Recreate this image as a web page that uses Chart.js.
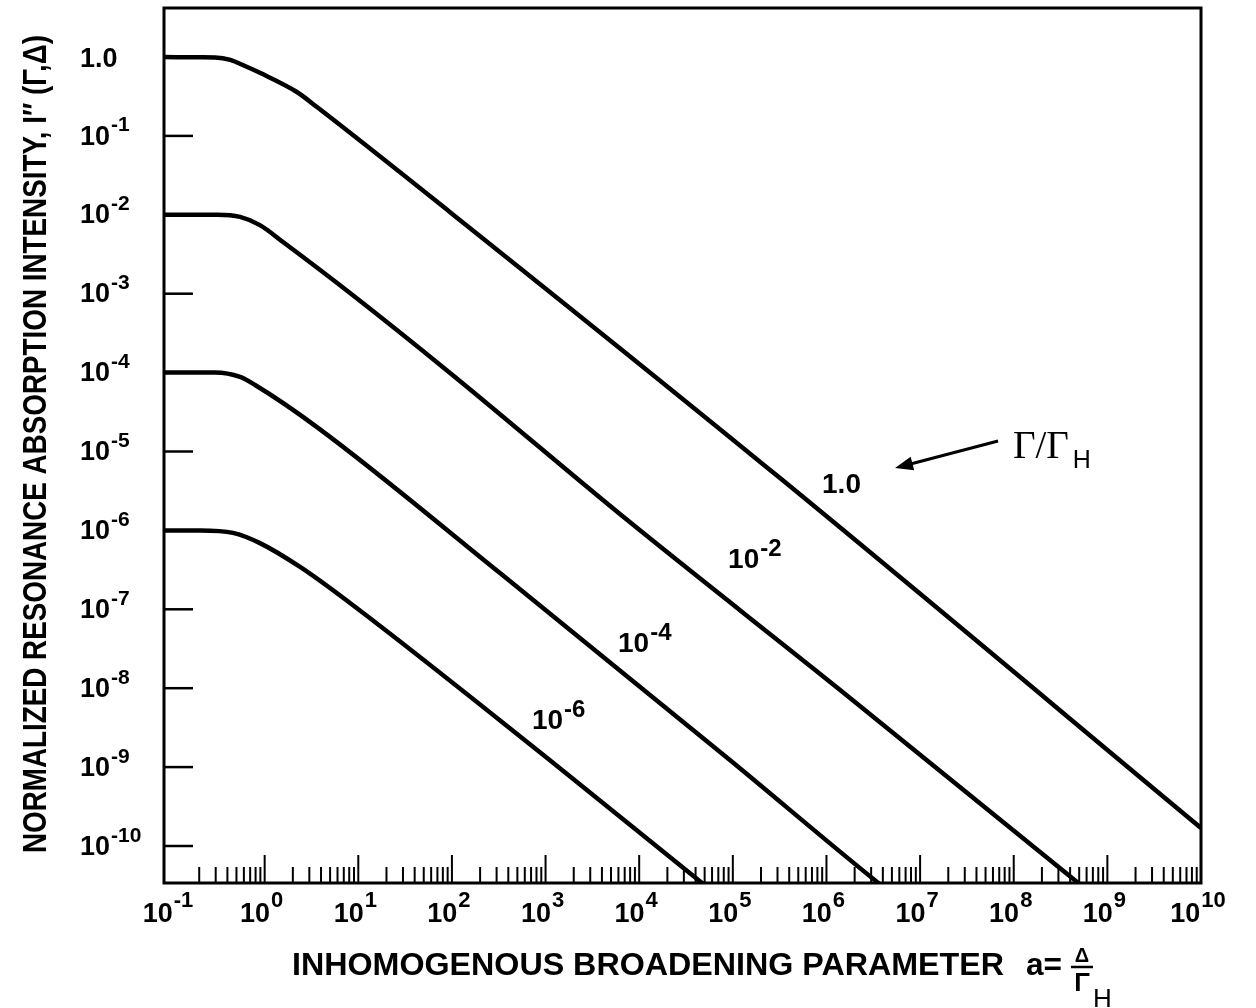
<!DOCTYPE html>
<html>
<head>
<meta charset="utf-8">
<script src="https://cdn.jsdelivr.net/npm/chart.js@4"></script>
<style>
  html, body { margin: 0; padding: 0; background: #fff; }
  #wrap { width: 1256px; height: 1008px; position: relative; }
</style>
</head>
<body>
<div id="wrap"><canvas id="chart"></canvas></div>
<script>
// Valores (a = Δ/Γ_H, intensidad normalizada)
const curveLabels = ['1.0', '-2', '-4', '-6'];

const aCurve0 = [0.0841, 0.204, 0.295, 0.43, 0.617, 0.89, 2.21, 3.62, 95.5, 3.19e5, 1e10];
const iCurve0 = [1.0, 0.99, 0.986, 0.92, 0.769, 0.63, 0.36, 0.232, 0.0108, 4.6e-6, 1.69e-10];

const aCurve2 = [0.0841, 0.31, 0.546, 0.89, 1.57, 8.16, 95.5, 7.41e3, 1.40e6, 4.2e8, 5.96e8];
const iCurve2 = [1e-2, 1e-2, 9.4e-3, 7.4e-3, 4.52e-3, 1.02e-3, 9.9e-5, 1.36e-6, 9.5e-9, 3.93e-11, 2.8e-11];

const aCurve4 = [0.0841, 0.295, 0.546, 0.79, 3.62, 326, 9.3e4, 3.47e6, 5.0e6];
const iCurve4 = [1e-4, 1e-4, 8.8e-5, 6.97e-5, 2.04e-5, 2.88e-7, 1.23e-9, 3.5e-11, 2.5e-11];

const aCurve6 = [0.0841, 0.204, 0.459, 0.89, 2.39, 8.16, 1.04e3, 4.69e4, 6.8e4];
const iCurve6 = [1e-6, 1e-6, 9.3e-7, 6.9e-7, 3.44e-7, 1.20e-7, 1.30e-9, 3.4e-11, 2.4e-11];

// Posiciones de las etiquetas de cada curva (coordenadas de datos)
const labelA = [8.97e5, 8.9e4, 5.94e3, 716];
const labelI = [4.0e-6, 4.47e-7, 3.85e-8, 4.07e-9];

// Marcas de los ejes (exponentes de 10)
const xDecades = [-1, 0, 1, 2, 3, 4, 5, 6, 7, 8, 9, 10];
const yDecades = [0, -1, -2, -3, -4, -5, -6, -7, -8, -9, -10];

const SANS = '"Liberation Sans", Arial, Helvetica, sans-serif';
const SERIF = '"Liberation Serif", "Times New Roman", serif';

function toPoints(xs, ys) {
    return xs.map((v, i) => ({ x: v, y: ys[i] }));
}

// Dibuja "10" con exponente; (x, y) = borde izquierdo y centro vertical de la base
function drawPower(ctx, x, y, exp, baseSize, supSize, rise, align) {
    ctx.font = 'bold ' + baseSize + 'px ' + SANS;
    const wBase = ctx.measureText('10').width;
    ctx.font = 'bold ' + supSize + 'px ' + SANS;
    const wSup = ctx.measureText(exp).width;
    let left = x;
    if (align === 'center') left = x - (wBase + wSup + 1) / 2;
    ctx.textAlign = 'left';
    ctx.textBaseline = 'alphabetic';
    ctx.font = 'bold ' + baseSize + 'px ' + SANS;
    ctx.fillText('10', left, y + baseSize * 0.358);
    ctx.font = 'bold ' + supSize + 'px ' + SANS;
    ctx.fillText(exp, left + wBase + 1, y - rise + supSize * 0.358);
}

function squeezeText(ctx, text, x, y, width, font, angle) {
    ctx.save();
    ctx.font = font;
    const w = ctx.measureText(text).width;
    ctx.translate(x, y);
    if (angle) ctx.rotate(angle);
    ctx.scale(width / w, 1);
    ctx.textAlign = 'left';
    ctx.textBaseline = 'alphabetic';
    ctx.fillText(text, 0, 0);
    ctx.restore();
}

const axesPlugin = {
    id: 'axesPlugin',
    afterDraw(chart) {
        const ctx = chart.ctx;
        const xs = chart.scales.x;
        const ys = chart.scales.y;
        const area = chart.chartArea;
        ctx.save();
        ctx.strokeStyle = '#000';
        ctx.fillStyle = '#000';

        // marco
        ctx.lineWidth = 3;
        ctx.strokeRect(area.left, area.top, area.right - area.left, area.bottom - area.top);

        // marcas del eje Y
        ctx.lineWidth = 2.5;
        yDecades.forEach(e => {
            const py = ys.getPixelForValue(Math.pow(10, e));
            ctx.beginPath();
            ctx.moveTo(area.left, py);
            ctx.lineTo(area.left + 29, py);
            ctx.stroke();
            if (e === 0) {
                ctx.font = 'bold 27px ' + SANS;
                ctx.textAlign = 'left';
                ctx.textBaseline = 'alphabetic';
                ctx.fillText('1.0', 80, py + 27 * 0.358);
            } else {
                drawPower(ctx, 80, py - 1, '-' + Math.abs(e), 27, 21, 11, 'left');
            }
        });

        // marcas del eje X
        ctx.lineWidth = 2;
        xDecades.forEach(e => {
            if (e < 10) {
                for (let m = 2; m <= 9; m++) {
                    const px = xs.getPixelForValue(m * Math.pow(10, e));
                    ctx.beginPath();
                    ctx.moveTo(px, area.bottom);
                    ctx.lineTo(px, area.bottom - 16);
                    ctx.stroke();
                }
            }
            const px = xs.getPixelForValue(Math.pow(10, e));
            if (e >= 0 && e < 10) {
                ctx.beginPath();
                ctx.moveTo(px, area.bottom);
                ctx.lineTo(px, area.bottom - 28);
                ctx.stroke();
            }
            drawPower(ctx, px - 3, area.bottom + 29, String(e), 27, 22, 13, 'center');
        });

        // títulos de ejes
        squeezeText(ctx, 'NORMALIZED RESONANCE ABSORPTION INTENSITY, I\u2033 (\u0393,\u0394)',
            46, 853, 818, 'bold 34px ' + SANS, -Math.PI / 2);
        squeezeText(ctx, 'INHOMOGENOUS BROADENING PARAMETER', 292, 975, 712, 'bold 31px ' + SANS);
        squeezeText(ctx, 'a=', 1026, 975, 36, 'bold 31px ' + SANS);
        ctx.textAlign = 'center';
        ctx.textBaseline = 'alphabetic';
        ctx.font = 'bold 20px ' + SANS;
        ctx.fillText('\u0394', 1082, 962);
        ctx.lineWidth = 2.5;
        ctx.beginPath();
        ctx.moveTo(1071, 967);
        ctx.lineTo(1093, 967);
        ctx.stroke();
        ctx.font = 'bold 26px ' + SANS;
        ctx.fillText('\u0393', 1082, 991);
        ctx.textAlign = 'left';
        ctx.font = '26px ' + SANS;
        ctx.fillText('H', 1093, 1007);

        // etiquetas de las curvas
        curveLabels.forEach((lab, i) => {
            const px = xs.getPixelForValue(labelA[i]);
            const py = ys.getPixelForValue(labelI[i]);
            if (lab === '1.0') {
                ctx.font = 'bold 28px ' + SANS;
                ctx.textAlign = 'left';
                ctx.fillText(lab, px, py + 28 * 0.358);
            } else {
                drawPower(ctx, px, py, lab, 28, 24, 11, 'left');
            }
        });

        // flecha y Γ/Γ_H
        const tipX = xs.getPixelForValue(5.4e6), tipY = ys.getPixelForValue(6.18e-6);
        const tailX = xs.getPixelForValue(6.8e7), tailY = ys.getPixelForValue(1.36e-5);
        const ang = Math.atan2(tipY - tailY, tipX - tailX);
        ctx.lineWidth = 3;
        ctx.beginPath();
        ctx.moveTo(tailX, tailY);
        ctx.lineTo(tipX - 12 * Math.cos(ang), tipY - 12 * Math.sin(ang));
        ctx.stroke();
        ctx.beginPath();
        ctx.moveTo(tipX, tipY);
        ctx.lineTo(tipX - 18 * Math.cos(ang) + 7 * Math.sin(ang), tipY - 18 * Math.sin(ang) - 7 * Math.cos(ang));
        ctx.lineTo(tipX - 18 * Math.cos(ang) - 7 * Math.sin(ang), tipY - 18 * Math.sin(ang) + 7 * Math.cos(ang));
        ctx.closePath();
        ctx.fill();

        const gx = xs.getPixelForValue(9.8e7), gy = ys.getPixelForValue(9.6e-6);
        ctx.font = '39px ' + SERIF;
        ctx.textAlign = 'left';
        ctx.fillText('\u0393/\u0393', gx, gy + 5);
        const wg = ctx.measureText('\u0393/\u0393').width;
        ctx.font = '25px ' + SANS;
        ctx.fillText('H', gx + wg + 4, gy + 15);

        ctx.restore();
    }
};

const lineStyle = {
    borderColor: '#000',
    borderWidth: 4.5,
    pointRadius: 0,
    fill: false,
    cubicInterpolationMode: 'monotone'
};

const ctx = document.getElementById('chart').getContext('2d');
const chart = new Chart(ctx, {
    type: 'line',
    data: {
        datasets: [
            Object.assign({ label: '1.0', data: toPoints(aCurve0, iCurve0) }, lineStyle),
            Object.assign({ label: '10^-2', data: toPoints(aCurve2, iCurve2) }, lineStyle),
            Object.assign({ label: '10^-4', data: toPoints(aCurve4, iCurve4) }, lineStyle),
            Object.assign({ label: '10^-6', data: toPoints(aCurve6, iCurve6) }, lineStyle)
        ]
    },
    options: {
        responsive: true,
        maintainAspectRatio: false,
        animation: false,
        devicePixelRatio: 1,
        layout: {
            padding: { left: 164, right: 55, top: 8, bottom: 125 }
        },
        plugins: {
            legend: { display: false },
            tooltip: { enabled: false }
        },
        scales: {
            x: {
                type: 'logarithmic',
                min: Math.pow(10, -1.075),
                max: 1e10,
                display: false
            },
            y: {
                type: 'logarithmic',
                min: Math.pow(10, -10.469),
                max: Math.pow(10, 0.621),
                display: false
            }
        }
    },
    plugins: [axesPlugin]
});
</script>
</body>
</html>
